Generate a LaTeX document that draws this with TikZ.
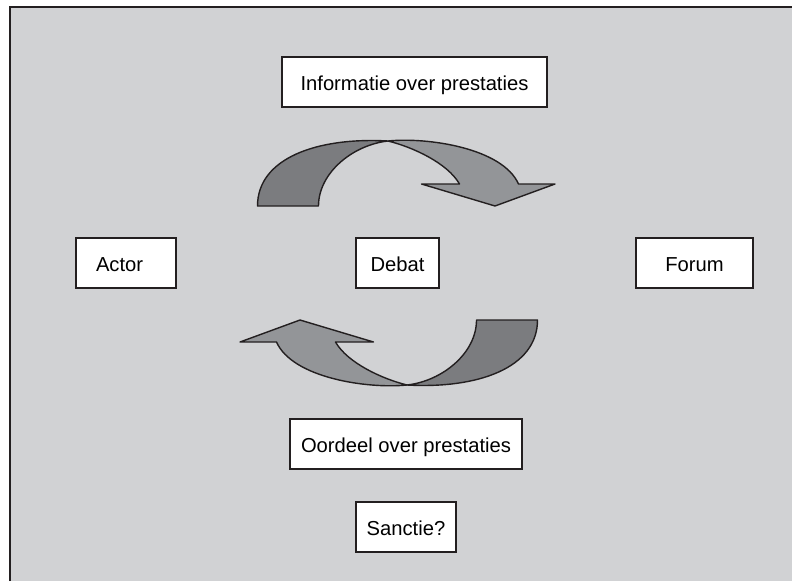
\documentclass[tikz,border=0pt]{standalone}
\usepackage{fontspec}
\setmainfont{Liberation Sans}
\usepackage{xcolor}
\usepackage{tikz}

\definecolor{panelgrey}{HTML}{D1D2D4}
\definecolor{backgrey}{HTML}{7B7C7F}
\definecolor{frontgrey}{HTML}{939598}
\definecolor{inkblack}{HTML}{231F20}

\tikzset{
  cyclearrow/.pic={
    \filldraw[band, fill=backgrey] (-140,-57) .. controls (-140,-105) and (-80,-126) .. (-9.5,-122)
      .. controls (-45,-118) and (-79,-90) .. (-79,-57) -- cycle;
    \filldraw[band, fill=frontgrey] (-9.5,-122) .. controls (30,-126) and (105,-115) .. (121,-79)
      -- (157.5,-79) -- (97.5,-57) -- (24,-79) -- (62,-79)
      .. controls (50,-100) and (15,-116) .. (-9.5,-122) -- cycle;
  }
}

\begin{document}
\begin{tikzpicture}[x=1pt, y=-1pt,
  box/.style={draw=inkblack, line width=1.8pt, fill=white, minimum height=50pt, inner sep=0pt,
    text height=16pt, text depth=0pt, font=\fontsize{20.2}{24}\selectfont},
  band/.style={draw=inkblack, line width=1.4pt, line join=round}]
\useasboundingbox (0,0) rectangle (792,581);
\fill[panelgrey] (9.5,6.5) rectangle (792,581);
\draw[inkblack, line width=2pt] (9.5,581) -- (9.5,6.5) -- (792,6.5);

\node[box, minimum width=265pt] (info) at (414.5,82) {Informatie over prestaties};
\node[box, text width=60pt, align=left, inner xsep=20pt] (actor) at (126,263) {Actor};
\node[box, minimum width=83pt] (debat) at (397.5,263) {Debat};
\node[box, minimum width=117pt] (forum) at (694.5,263) {Forum};
\node[box, minimum width=232pt] (oordeel) at (406,444) {Oordeel over prestaties};
\node[box, minimum width=100pt] (sanctie) at (406,527) {Sanctie?};

\pic at (debat.center) {cyclearrow};
\pic[rotate=180] at (debat.center) {cyclearrow};
\end{tikzpicture}
\end{document}
